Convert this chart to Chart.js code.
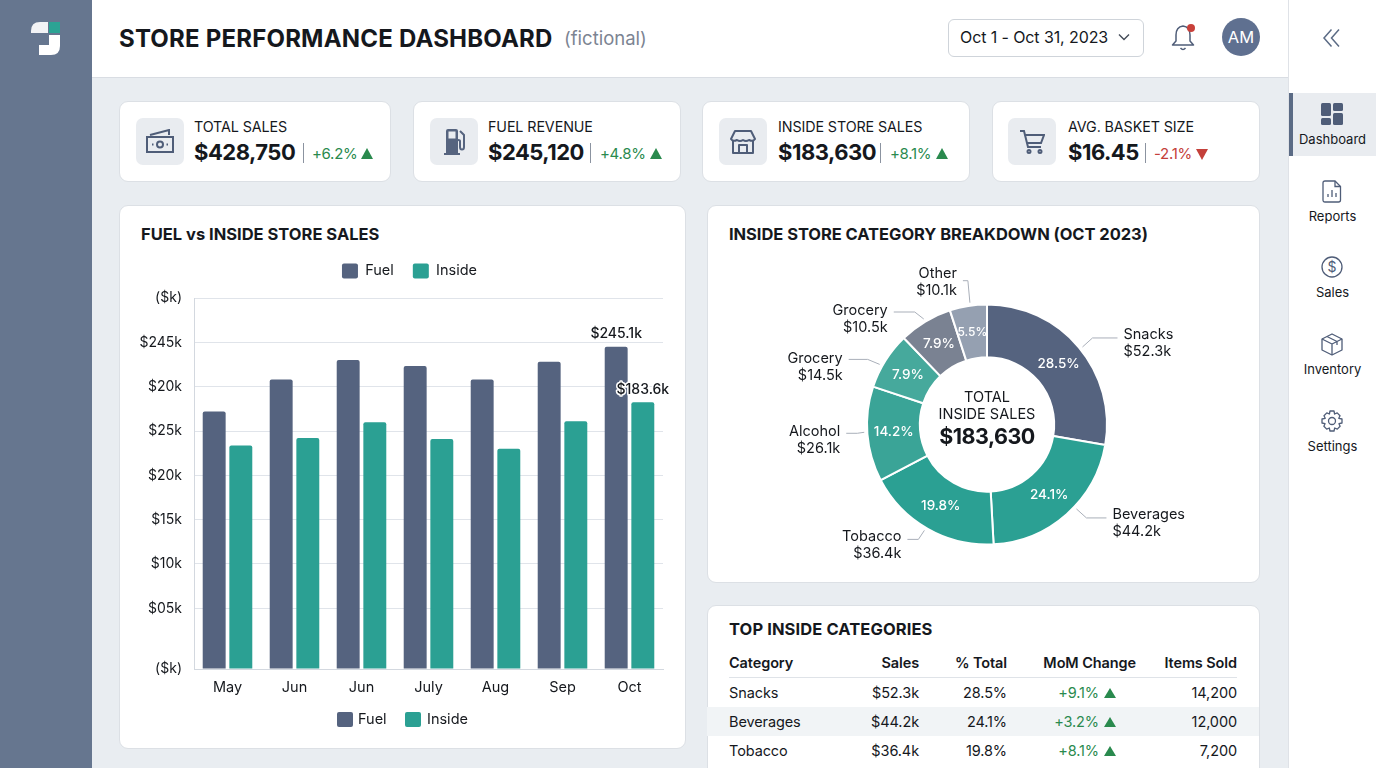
<!DOCTYPE html>
<html>
<head>
<meta charset="utf-8">
<script src="https://cdn.jsdelivr.net/npm/chart.js@4"></script>
<style>
* { box-sizing: border-box; margin: 0; padding: 0; }
html, body { width: 1376px; height: 768px; overflow: hidden; }
body { background: #e9edf1; font-family: Inter, sans-serif; color: #15181d; position: relative; }
.abs, .abs-text { position: absolute; }
.abs-text { white-space: nowrap; line-height: 1; transform: translateY(-50%); }
#leftbar { left: 0; top: 0; width: 92px; height: 768px; background: #66768f; }
#topbar { left: 92px; top: 0; width: 1197px; height: 78px; background: #fff; border-bottom: 1px solid #d9dde3; }
#rail { left: 1288px; top: 0; width: 88px; height: 768px; background: #fff; border-left: 1px solid #dfe2e7; }
#railActive { left: 1289px; top: 93px; width: 87px; height: 63px; background: #e9ecf0; border-left: 4px solid #5b6b85; }
.card { position: absolute; background: #fff; border: 1px solid #dce0e5; border-radius: 9px; }
.iconbox { position: absolute; width: 48px; height: 47px; top: 118px; background: #e9ecf0; border-radius: 7px; display: flex; align-items: center; justify-content: center; }
.iconbox svg { display: block; }
.divider { position: absolute; width: 1px; top: 143px; height: 20px; background: #8b93a0; }
.tri { position: absolute; width: 0; height: 0; border-left: 6px solid transparent; border-right: 6px solid transparent; }
.tri.up { border-bottom: 11px solid #2a8a4e; }
.tri.down { border-top: 11px solid #c4403a; }
.kpiLabel { font-size: 14.3px; letter-spacing: -0.1px; }
.kpiValue { font-size: 22px; font-weight: 700; letter-spacing: -0.5px; }
.kpiDelta { font-size: 15px; letter-spacing: -0.3px; }
.cardTitle { font-size: 16.5px; font-weight: 700; letter-spacing: 0; }
.railLabel { font-size: 13px; left: 1289px; width: 87px; text-align: center; }
canvas { position: absolute; }
.legendSwatch { position: absolute; width: 16px; height: 15px; border-radius: 2px; }
#table { position: absolute; left: 707px; top: 647px; width: 552px; }
.row { display: grid; grid-template-columns: 110px 80px 88px 129px 101px; padding: 0 22px; height: 29px; align-items: center; font-size: 14.5px; letter-spacing: -0.1px; }
.row.head { font-weight: 600; height: 30px; }
.row.band { background: #f1f4f6; }
.row div { text-align: right; }
.row div:first-child { text-align: left; }
.rule { height: 1px; background: #dfe3e8; margin: 0 22px; }
.up { color: #2a8a4e; }
.mom { padding-right: 20px; display: flex; justify-content: flex-end; align-items: center; gap: 5px; }
.mom i { display: block; width: 0; height: 0; border-left: 6px solid transparent; border-right: 6px solid transparent; border-bottom: 10px solid #2a8a4e; }
</style>
</head>
<body>
<div class="abs" id="leftbar"></div>
<svg class="abs" style="left:28px;top:20px" width="36" height="38" viewBox="0 0 36 38">
  <path d="M3 13V11Q3 2 12 2H20V13Z" fill="#f2f3f5"/>
  <rect x="21" y="2" width="11" height="11" fill="#2ba394"/>
  <path d="M21 15H32V26Q32 35 23 35H11V25H21Z" fill="#fff"/>
</svg>
<div class="abs" id="topbar"></div>
<div class="abs" id="rail"></div>
<div class="abs" id="railActive"></div>

<div class="abs-text" style="left:119px;top:39px;font-size:24px;font-weight:700;letter-spacing:0.2px">STORE PERFORMANCE DASHBOARD</div>
<div class="abs-text" style="left:564px;top:38px;font-size:18.5px;color:#7c8492">(fictional)</div>

<div class="abs" style="left:948px;top:19px;width:196px;height:38px;border:1px solid #cfd4da;border-radius:6px;background:#fff"></div>
<div class="abs-text" style="left:960px;top:37px;font-size:16px;letter-spacing:-0.1px">Oct 1 - Oct 31, 2023</div>
<svg class="abs" style="left:1118px;top:33px" width="12" height="8" viewBox="0 0 12 8"><path d="M1 1.5L6 6.5L11 1.5" fill="none" stroke="#444c58" stroke-width="1.4"/></svg>
<svg class="abs" style="left:1170px;top:22px" width="28" height="30" viewBox="0 0 28 30">
  <path d="M13 4Q6 5 6 13V19L2.500 23H23.500L20 19V13Q20 5 13 4Z" fill="none" stroke="#4f5d78" stroke-width="1.500" stroke-linejoin="round"/>
  <path d="M10.500 26Q13 29 15.500 26" fill="none" stroke="#4f5d78" stroke-width="1.500"/>
  <circle cx="21" cy="6" r="4" fill="#c8403a"/>
</svg>
<div class="abs" style="left:1222px;top:18px;width:38px;height:38px;border-radius:50%;background:#5f7090"></div>
<div class="abs-text" style="left:1222px;top:37px;width:38px;text-align:center;font-size:16.5px;color:#fff">AM</div>
<svg class="abs" style="left:1322px;top:28px" width="20" height="20" viewBox="0 0 20 20"><path d="M9.500 1.500L2 10L9.500 18.500M17 1.500L9.500 10L17 18.500" fill="none" stroke="#5b6b85" stroke-width="1.500"/></svg>

<!-- kpi cards -->
<div class="card" style="left:119px;top:101px;width:272px;height:81px"></div>
<div class="card" style="left:413px;top:101px;width:268px;height:81px"></div>
<div class="card" style="left:702px;top:101px;width:268px;height:81px"></div>
<div class="card" style="left:992px;top:101px;width:268px;height:81px"></div>

<div class="iconbox" style="left:136px"><svg width="30" height="26" viewBox="0 0 30 26" fill="none" stroke="#4f5d78" stroke-width="2"><path d="M5 6L24 1V6M3 4.500"/><rect x="2" y="8" width="26" height="15"/><circle cx="15" cy="15.500" r="3"/><path d="M7 15.500H8.500M21.500 15.500H23"/></svg></div>
<div class="iconbox" style="left:430px"><svg width="26" height="30" viewBox="0 0 26 30"><path d="M5 4Q5 2 7 2H15Q17 2 17 4V26H19V28H3V26H5Z" fill="#56647f"/><rect x="7.500" y="4.500" width="7" height="7" fill="#e9ecf0"/><path d="M19 4L23 8V20Q23 22.500 21 22.500Q19 22.500 19 20V14Q19 13 17 13" fill="none" stroke="#56647f" stroke-width="2"/></svg></div>
<div class="iconbox" style="left:719px"><svg width="26" height="26" viewBox="0 0 26 26" fill="none" stroke="#4f5d78" stroke-width="2" stroke-linejoin="round"><path d="M5 2H21L25 10Q23 13 19 11Q16 13 13 11Q10 13 7 11Q3 13 1 10Z"/><path d="M3 12V24H23V12"/><path d="M9 24V16H17V24"/></svg></div>
<div class="iconbox" style="left:1008px"><svg width="26" height="26" viewBox="0 0 26 26" fill="none" stroke="#4f5d78" stroke-width="2"><path d="M1 2H5L9 18H22"/><path d="M6 6H25L22 14H8"/><circle cx="10" cy="22.500" r="1.500"/><circle cx="21" cy="22.500" r="1.500"/></svg></div>

<div class="abs-text kpiLabel" style="left:194px;top:127px">TOTAL SALES</div>
<div class="abs-text kpiValue" style="left:194px;top:152px">$428,750</div>
<div class="divider" style="left:303px"></div>
<div class="abs-text kpiDelta up" style="left:312px;top:153px">+6.2%</div>
<div class="tri up" style="left:361px;top:148px"></div>

<div class="abs-text kpiLabel" style="left:488px;top:127px">FUEL REVENUE</div>
<div class="abs-text kpiValue" style="left:488px;top:152px">$245,120</div>
<div class="divider" style="left:590px"></div>
<div class="abs-text kpiDelta up" style="left:600px;top:153px">+4.8%</div>
<div class="tri up" style="left:650px;top:148px"></div>

<div class="abs-text kpiLabel" style="left:778px;top:127px">INSIDE STORE SALES</div>
<div class="abs-text kpiValue" style="left:778px;top:152px">$183,630</div>
<div class="divider" style="left:880px"></div>
<div class="abs-text kpiDelta up" style="left:890px;top:153px">+8.1%</div>
<div class="tri up" style="left:936px;top:148px"></div>

<div class="abs-text kpiLabel" style="left:1068px;top:127px">AVG. BASKET SIZE</div>
<div class="abs-text kpiValue" style="left:1068px;top:152px">$16.45</div>
<div class="divider" style="left:1145px"></div>
<div class="abs-text kpiDelta" style="left:1154px;top:153px;color:#c4403a">-2.1%</div>
<div class="tri down" style="left:1196px;top:149px"></div>

<!-- rail -->
<svg class="abs" style="left:1321px;top:103px" width="22" height="22" viewBox="0 0 22 22" fill="#4f5d78"><rect width="10" height="13" rx="1.500"/><rect x="12" width="10" height="8" rx="1.500"/><rect y="15" width="10" height="7" rx="1.500"/><rect x="12" y="10" width="10" height="12" rx="1.500"/></svg>
<div class="abs-text railLabel" style="top:139px">Dashboard</div>
<svg class="abs" style="left:1322px;top:180px" width="20" height="23" viewBox="0 0 20 23" fill="none" stroke="#4f5d78" stroke-width="1.300"><path d="M3 1H13L18.500 6.500V20Q18.500 22 16.500 22H3Q1 22 1 20V3Q1 1 3 1Z"/><path d="M13 1V6.500H18.500M6 17V14M10 17V10M14 17V13"/></svg>
<div class="abs-text railLabel" style="top:216px">Reports</div>
<svg class="abs" style="left:1321px;top:256px" width="22" height="22" viewBox="0 0 22 22" fill="none" stroke="#4f5d78" stroke-width="1.300"><circle cx="11" cy="11" r="10"/><text x="11" y="16" text-anchor="middle" font-size="14" fill="#4f5d78" stroke="none" font-family="Inter">$</text></svg>
<div class="abs-text railLabel" style="top:292px">Sales</div>
<svg class="abs" style="left:1321px;top:333px" width="22" height="23" viewBox="0 0 22 23" fill="none" stroke="#4f5d78" stroke-width="1.300" stroke-linejoin="round"><path d="M11 1L21 6V17L11 22L1 17V6Z"/><path d="M1 6L11 11L21 6M11 11V22M6 3.500L16 8.500V12"/></svg>
<div class="abs-text railLabel" style="top:369px">Inventory</div>
<svg class="abs" style="left:1321px;top:410px" width="22" height="22" viewBox="0 0 22 22" fill="none" stroke="#4f5d78" stroke-width="1.300" stroke-linejoin="round"><circle cx="11" cy="11" r="3.500"/><path d="M9 1H13L13.600 4L16.200 2.900L19 5.700L17.800 8.300L21 9V13L18 13.700L19.100 16.300L16.300 19.100L13.700 18L13 21H9L8.300 18L5.700 19.100L2.900 16.300L4 13.700L1 13V9L4.200 8.300L3 5.700L5.800 2.900L8.400 4Z"/></svg>
<div class="abs-text railLabel" style="top:446px">Settings</div>

<!-- bar chart card -->
<div class="card" style="left:119px;top:205px;width:567px;height:544px"></div>
<div class="abs-text cardTitle" style="left:141px;top:234px">FUEL vs INSIDE STORE SALES</div>
<canvas id="salesChart" style="left:120px;top:206px;width:565px;height:542px"></canvas>
<div id="lowerLegend"></div>

<!-- doughnut card -->
<div class="card" style="left:707px;top:205px;width:553px;height:378px"></div>
<div class="abs-text cardTitle" style="left:729px;top:234px;letter-spacing:-0.05px">INSIDE STORE CATEGORY BREAKDOWN (OCT 2023)</div>
<canvas id="categoryChart" style="left:708px;top:250px;width:558px;height:349px"></canvas>

<!-- table card -->
<div class="card" style="left:707px;top:605px;width:553px;height:190px"></div>
<div class="abs-text cardTitle" style="left:729px;top:629px;letter-spacing:0.1px">TOP INSIDE CATEGORIES</div>
<div id="table"></div>

<script>
const months = ["May", "Jun", "Jun", "July", "Aug", "Sep", "Oct"];
const fuelSales = [193.1, 217.2, 231.7, 227.3, 217.2, 230.4, 241.8];
const insideSales = [167.6, 173.2, 185.1, 172.5, 165.3, 185.9, 200.1];
const salesTickValues = [0, 45.5, 78.8, 112, 145.3, 178.5, 211.7, 245, 278.3];
const salesTickLabels = ["($k)", "$05k", "$10k", "$15k", "$20k", "$25k", "$20k", "$245k", "($k)"];
const seriesNames = ["Fuel", "Inside"];
const barCallouts = ["$245.1k", "$183.6k"];

const sliceNames = ["Snacks", "Beverages", "Tobacco", "Alcohol", "Grocery", "Grocery", "Other"];
const sliceShares = [27.75, 21.4, 18.2, 12.8, 7.7, 7.2, 5.0];
const slicePercents = ["28.5%", "24.1%", "19.8%", "14.2%", "7.9%", "7.9%", "5.5%"];
const sliceAmounts = ["$52.3k", "$44.2k", "$36.4k", "$26.1k", "$14.5k", "$10.5k", "$10.1k"];

const tableHead = ["Category", "Sales", "% Total", "MoM Change", "Items Sold"];
const tableCategories = ["Snacks", "Beverages", "Tobacco"];
const tableSales = ["$52.3k", "$44.2k", "$36.4k"];
const tablePercents = ["28.5%", "24.1%", "19.8%"];
const tableChanges = ["+9.1%", "+3.2%", "+8.1%"];
const tableItems = ["14,200", "12,000", "7,200"];

const fuelColor = "#55637f";
const insideColor = "#2ba093";
const sliceColors = ["#55637f", "#2ba093", "#2ba093", "#3aa497", "#46a99c", "#7a8292", "#95a0b1"];
const inkColor = "#15181d";

Chart.defaults.font.family = "Inter, sans-serif";
Chart.defaults.animation = false;

// more air under the top legend, and nudge it right of the canvas centre
const legendPlace = {
    id: "legendPlace",
    beforeInit(chart) {
        const fit = chart.legend.fit;
        chart.legend.fit = function () {
            fit.call(this);
            this.height += 9.5;
        };
    },
    afterLayout(chart) {
        chart.legend.left += 18;
        chart.legend.right += 18;
    }
};

// the value labels over the October bars
const barLabels = {
    id: "barLabels",
    afterDatasetsDraw(chart) {
        const ctx = chart.ctx;
        ctx.save();
        ctx.font = "500 14px Inter";
        ctx.textAlign = "center";
        ctx.textBaseline = "middle";
        ctx.lineJoin = "round";
        barCallouts.forEach((text, i) => {
            const bar = chart.getDatasetMeta(i).data[months.length - 1];
            ctx.strokeStyle = "#fff";
            ctx.lineWidth = 3;
            ctx.strokeText(text, bar.x, bar.y - 12.5);
            ctx.fillStyle = inkColor;
            ctx.fillText(text, bar.x, bar.y - 12.5);
        });
        ctx.restore();
    }
};

new Chart(document.getElementById("salesChart"), {
    type: "bar",
    data: {
        labels: months,
        datasets: [
            { label: seriesNames[0], data: fuelSales, backgroundColor: fuelColor, borderRadius: { topLeft: 2, topRight: 2 }, borderSkipped: "bottom", categoryPercentage: 0.795, barPercentage: 0.861 },
            { label: seriesNames[1], data: insideSales, backgroundColor: insideColor, borderRadius: { topLeft: 2, topRight: 2 }, borderSkipped: "bottom", categoryPercentage: 0.795, barPercentage: 0.861 }
        ]
    },
    options: {
        responsive: false,
        layout: { padding: { top: 38.5, right: 22, bottom: 45, left: 0 } },
        plugins: {
            legend: {
                position: "top",
                labels: { boxWidth: 16, boxHeight: 15, padding: 19, useBorderRadius: true, borderRadius: 2, color: inkColor, font: { size: 14.5 } }
            },
            tooltip: { enabled: false }
        },
        scales: {
            x: {
                grid: { display: false },
                border: { color: "#d3d8df" },
                afterFit: (scale) => { scale.height = 34; },
                ticks: { color: inkColor, font: { size: 14.5 }, padding: 2, maxRotation: 0, autoSkip: false }
            },
            y: {
                min: 0,
                max: salesTickValues[salesTickValues.length - 1],
                afterBuildTicks: (scale) => { scale.ticks = salesTickValues.map(value => ({ value })); },
                afterFit: (scale) => { scale.width = 74; },
                grid: { color: "#e0e4ea", drawTicks: false },
                border: { color: "#d3d8df" },
                ticks: {
                    color: inkColor,
                    font: { size: 14 },
                    padding: 12,
                    autoSkip: false,
                    callback: (value, index) => salesTickLabels[index]
                }
            }
        }
    },
    plugins: [legendPlace, barLabels]
});

// second copy of the legend under the bars
const lowerLegend = document.getElementById("lowerLegend");
[[337, 358], [405, 427]].forEach((pos, i) => {
    lowerLegend.innerHTML += `<div class="legendSwatch" style="left:${pos[0]}px;top:712px;background:${i ? insideColor : fuelColor}"></div>` +
        `<div class="abs-text" style="left:${pos[1]}px;top:719px;font-size:14.5px">${seriesNames[i]}</div>`;
});

// leader line per slice: turn in degrees, elbow offset, run, text nudge
const leaders = [
    { turn: 1, dx: 10, dy: -9, run: 25, textDy: -3 },
    { turn: -5, dx: 10, dy: 9, run: 20, textDy: -3 },
    { turn: 1, dx: -6, dy: 9, run: -11, textDy: -3 },
    { turn: 1, dx: -7, dy: 1, run: -11, textDy: -2 },
    { turn: -3, dx: -12, dy: -5, run: -19, textDy: -1 },
    { turn: 0, dx: -9, dy: -7, run: -21, textDy: -1 },
    { turn: 1, dx: -2, dy: -22, run: -5, textDy: -7 }
];

const sliceLabels = {
    id: "sliceLabels",
    afterDatasetsDraw(chart) {
        const ctx = chart.ctx;
        const arcs = chart.getDatasetMeta(0).data;
        ctx.save();
        ctx.textBaseline = "middle";
        arcs.forEach((arc, i) => {
            const mid = arc.getCenterPoint();
            ctx.textAlign = "center";
            ctx.fillStyle = "#fff";
            ctx.font = (i === 6 ? "500 12px" : "500 13.5px") + " Inter";
            ctx.fillText(slicePercents[i], mid.x, mid.y);

            const leader = leaders[i];
            const angle = (arc.startAngle + arc.endAngle) / 2 + leader.turn * Math.PI / 180;
            const startX = arc.x + Math.cos(angle) * (arc.outerRadius + 3);
            const startY = arc.y + Math.sin(angle) * (arc.outerRadius + 3);
            const elbowX = startX + leader.dx;
            const elbowY = startY + leader.dy;
            const endX = elbowX + leader.run;
            ctx.strokeStyle = "#a9afb9";
            ctx.lineWidth = 1;
            ctx.beginPath();
            ctx.moveTo(startX, startY);
            ctx.lineTo(elbowX, elbowY);
            ctx.lineTo(endX, elbowY);
            ctx.stroke();

            const right = leader.run > 0;
            ctx.textAlign = right ? "left" : "right";
            ctx.fillStyle = inkColor;
            ctx.font = "14.5px Inter";
            const textX = endX + (right ? 6 : -6);
            ctx.fillText(sliceNames[i], textX, elbowY + leader.textDy);
            ctx.fillText(sliceAmounts[i], textX, elbowY + leader.textDy + 17);
        });

        const cx = arcs[0].x;
        const cy = arcs[0].y;
        ctx.textAlign = "center";
        ctx.fillStyle = inkColor;
        ctx.font = "14.5px Inter";
        ctx.fillText("TOTAL", cx, cy - 27);
        ctx.fillText("INSIDE SALES", cx, cy - 10);
        ctx.font = "700 21.5px Inter";
        ctx.letterSpacing = "-0.5px";
        ctx.fillText("$183,630", cx, cy + 13);
        ctx.restore();
    }
};

new Chart(document.getElementById("categoryChart"), {
    type: "doughnut",
    data: {
        labels: sliceNames,
        datasets: [{
            data: sliceShares,
            backgroundColor: sliceColors,
            borderColor: "#fff",
            borderWidth: 2,
            hoverOffset: 0
        }]
    },
    options: {
        responsive: false,
        cutout: "56%",
        layout: { padding: { top: 53.5, bottom: 53.5, left: 0, right: 0 } },
        plugins: { legend: { display: false }, tooltip: { enabled: false } }
    },
    plugins: [sliceLabels]
});

// table
const table = document.getElementById("table");
let tableHtml = '<div class="row head">' + tableHead.map(h => `<div>${h}</div>`).join("") + '</div><div class="rule"></div>';
tableCategories.forEach((name, i) => {
    tableHtml += `<div class="row${i === 1 ? " band" : ""}"><div>${name}</div><div>${tableSales[i]}</div><div>${tablePercents[i]}</div>` +
        `<div class="mom up">${tableChanges[i]}<i></i></div><div>${tableItems[i]}</div></div>`;
});
table.innerHTML = tableHtml;
</script>
</body>
</html>
